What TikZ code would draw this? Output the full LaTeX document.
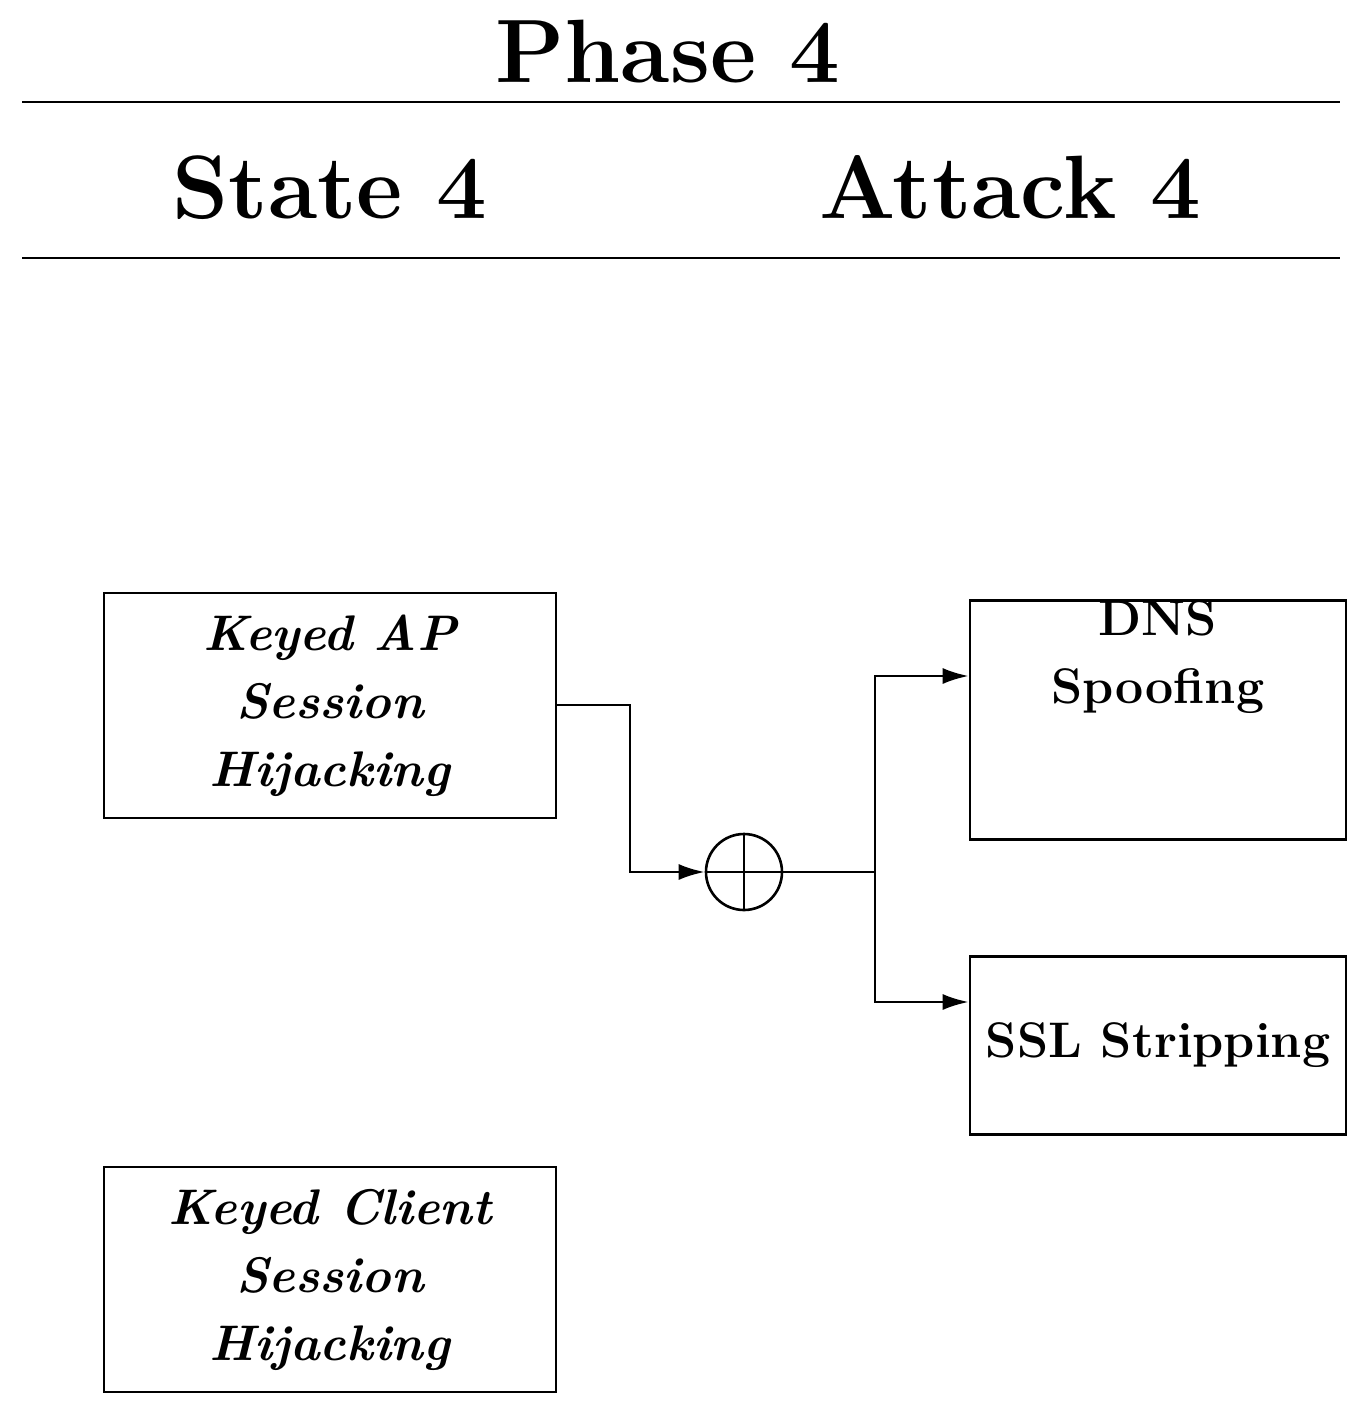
\documentclass[tikz,border=0pt]{standalone}
\usetikzlibrary{arrows.meta}
\begin{document}
\begin{tikzpicture}[x=0.5pt,y=-0.5pt,
  box/.style={draw,line width=1.3pt,minimum width=226pt,minimum height=112.5pt,inner sep=0pt,align=center,font=\fontsize{25}{34}\selectfont\bfseries},
  ibox/.style={box,font=\fontsize{25}{34}\selectfont\bfseries\itshape},
  rbox/.style={box,minimum width=188pt,minimum height=89pt},
  head/.style={font=\fontsize{45}{50}\selectfont\bfseries,inner sep=0pt,anchor=base},
  conn/.style={line width=1.3pt},
  arr/.style={conn,-{Latex[length=13pt,width=8pt]}}]
\useasboundingbox (0,0) rectangle (1368,1415);
\node[head] (phase) at (668,82) {Phase 4};
\coordinate (r1a) at (22,102); \coordinate (r1b) at (1340,102);
\draw[line width=1.3pt] (r1a) -- (r1b);
\node[head] (state) at (330,218) {State 4};
\node[head] (attack) at (1010,218) {Attack 4};
\coordinate (r2a) at (22,258); \coordinate (r2b) at (1340,258);
\draw[line width=1.3pt] (r2a) -- (r2b);
\node[ibox] (ap) at (330,705.5) {Keyed AP\\Session\\Hijacking};
\node[ibox] (cl) at (330,1279.5) {Keyed Client\\Session\\Hijacking};
\node[rbox] (dns) at (1158,720) {DNS\\Spoofing\\[34pt]};
\node[rbox] (ssl) at (1158,1045.5) {SSL Stripping};
\node[draw,circle,line width=1.3pt,minimum size=38pt,inner sep=0pt] (op) at (744,872) {};
\draw[line width=1.3pt] (op.north) -- (op.south) (op.west) -- (op.east);
\coordinate (j1) at (630,705); \coordinate (j2) at (630,872);
\draw[arr] (ap.east |- j1) -- (j1) -- (j2) -- (op.west);
\coordinate (s) at (875,872);
\draw[conn] (op.east) -- (s);
\draw[arr] (s) |- (dns.west |- 0,676);
\draw[arr] (s) |- (ssl.west |- 0,1002);
\end{tikzpicture}
\end{document}
